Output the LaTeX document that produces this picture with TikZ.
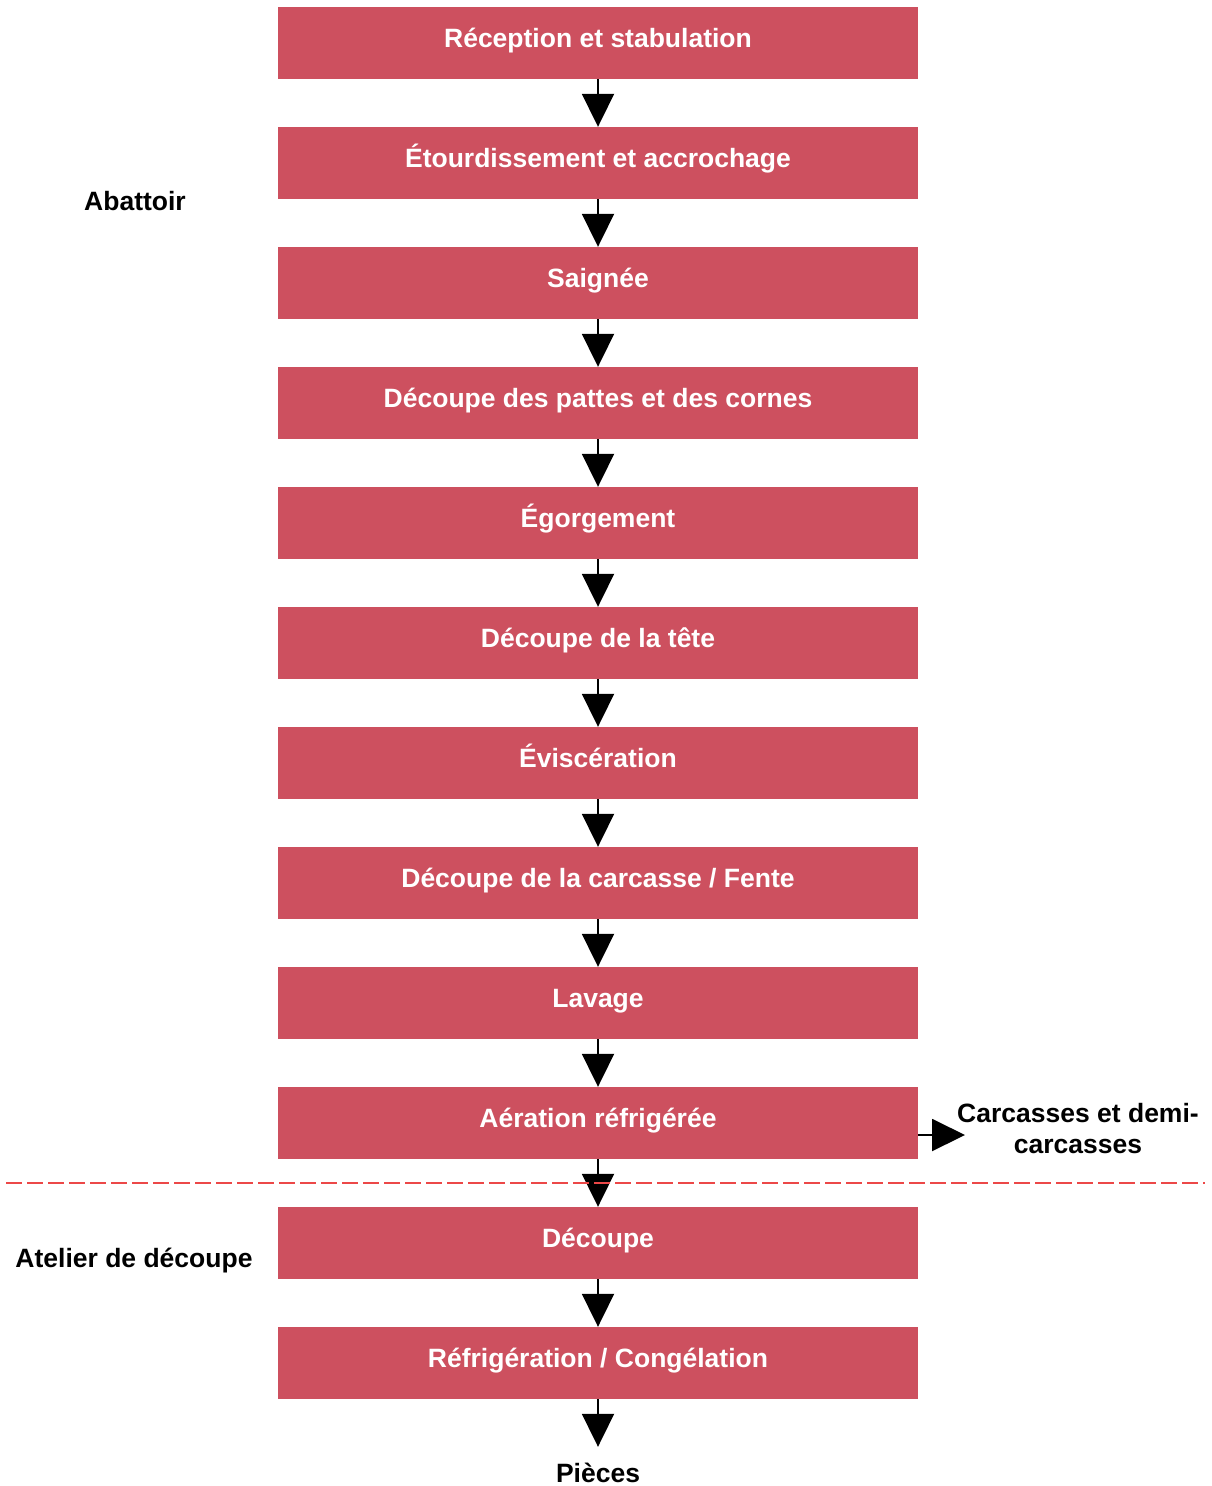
\documentclass[tikz,border=0pt]{standalone}
\usepackage{fontspec}
\setmainfont{Liberation Sans}
\usetikzlibrary{arrows.meta}
\definecolor{stepred}{RGB}{205,80,95}
\definecolor{cutline}{RGB}{236,72,72}
\begin{document}
\begin{tikzpicture}[x=1pt,y=-1pt,
  stage/.style={fill=stepred, draw=none, minimum width=640pt, minimum height=72pt,
    inner sep=0pt, text=white, font=\fontsize{26.5}{30}\selectfont\bfseries,
    text height=19pt, text depth=11pt},
  flow/.style={line width=2pt, -{Triangle[width=32pt,length=33pt]}},
  zone/.style={font=\fontsize{26.5}{31}\selectfont\bfseries, text=black, inner sep=0pt}]
\useasboundingbox (0,0) rectangle (1211,1486);

% process stages
\node[stage] (s1)  at (598,43)   {Réception et stabulation};
\node[stage] (s2)  at (598,163)  {Étourdissement et accrochage};
\node[stage] (s3)  at (598,283)  {Saignée};
\node[stage] (s4)  at (598,403)  {Découpe des pattes et des cornes};
\node[stage] (s5)  at (598,523)  {Égorgement};
\node[stage] (s6)  at (598,643)  {Découpe de la tête};
\node[stage] (s7)  at (598,763)  {Éviscération};
\node[stage] (s8)  at (598,883)  {Découpe de la carcasse / Fente};
\node[stage] (s9)  at (598,1003) {Lavage};
\node[stage] (s10) at (598,1123) {Aération réfrigérée};
\node[stage] (s11) at (598,1243) {Découpe};
\node[stage] (s12) at (598,1363) {Réfrigération / Congélation};

% zone labels
\node[zone] (abattoir) at (135,201)  {Abattoir};
\node[zone] (atelier)  at (134,1261) {Atelier de découpe};

% outputs
\node[zone, align=center, anchor=north] (carc) at (1078,1103) {Carcasses et demi-\\carcasses};
\node[zone, anchor=base, text height=19pt, inner ysep=16pt] (pieces) at (598,1482) {Pièces};
\coordinate (carcin) at (965,1135);

% flow arrows
\foreach \a/\b in {s1/s2,s2/s3,s3/s4,s4/s5,s5/s6,s6/s7,s7/s8,s8/s9,s9/s10,s10/s11,s11/s12}
  \draw[flow] (\a.south) -- (\b.north);
\draw[flow] (s12.south) -- (pieces.north);
\draw[flow] ([yshift=-12pt]s10.east) -- (carcin);

% boundary between slaughterhouse and cutting workshop
\draw[cutline, line width=2.5pt, dash pattern=on 16pt off 5pt] (6,1183) -- (1205,1183);
\end{tikzpicture}
\end{document}
